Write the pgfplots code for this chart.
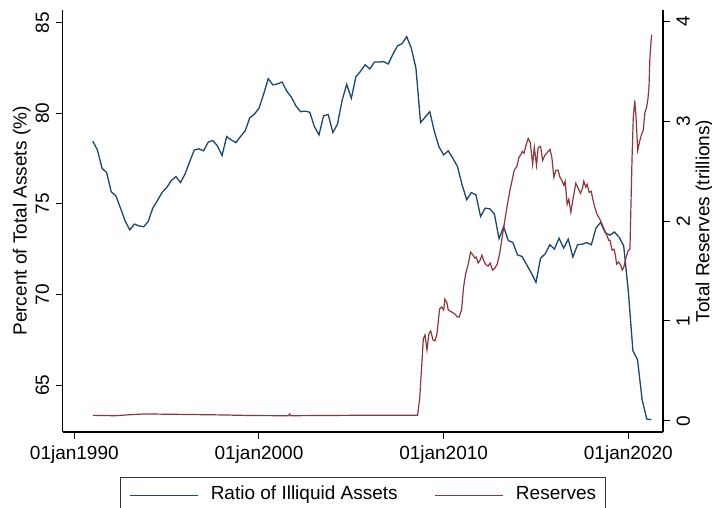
\documentclass[border=0pt]{standalone}
\usepackage{fontspec}
\setmainfont{Liberation Sans}
\usepackage{pgfplots}
\pgfplotsset{compat=1.18}
\definecolor{stnavy}{RGB}{26,71,111}
\definecolor{stmaroon}{RGB}{144,53,59}
\begin{document}
\fontsize{19}{22}\selectfont
\begin{tikzpicture}
\pgfplotsset{
  common/.style={
    width=600.3pt, height=422pt, scale only axis,
    xmin=1989.37, xmax=2021.88,
    xtick={1990,2000,2010,2020},
    xticklabels={01jan1990,01jan2000,01jan2010,01jan2020},
    tick align=outside, major tick length=7pt,
    every tick/.style={black, line width=1pt},
    axis line style={black, line width=1.1pt},
    /pgf/number format/assume math mode=true,
  }
}
\begin{axis}[common,
  axis x line*=bottom, axis y line*=left,
  ymin=62.42, ymax=85.70,
  ytick={65,70,75,80,85},
  yticklabel style={rotate=90, anchor=south},
  ylabel={Percent of Total Assets (\%)},
  ylabel style={at={(axis description cs:-0.0683,0.5)}, anchor=center},
]
\addplot[stnavy, line width=1.3pt] coordinates {
(1991.00,78.46) (1991.25,77.98) (1991.50,76.97) (1991.75,76.73)
(1992.00,75.67) (1992.25,75.45) (1992.50,74.77) (1992.75,74.07)
(1993.00,73.57) (1993.25,73.89) (1993.50,73.79) (1993.75,73.74)
(1994.00,74.03) (1994.25,74.77) (1994.50,75.19) (1994.75,75.63)
(1995.00,75.90) (1995.25,76.29) (1995.50,76.51) (1995.75,76.18)
(1996.00,76.66) (1996.25,77.34) (1996.50,77.98) (1996.75,78.04)
(1997.00,77.93) (1997.25,78.41) (1997.50,78.50) (1997.75,78.20)
(1998.00,77.67) (1998.25,78.72) (1998.50,78.53) (1998.75,78.38)
(1999.00,78.72) (1999.25,79.03) (1999.50,79.75) (1999.75,79.95)
(2000.00,80.28) (2000.25,81.05) (2000.50,81.91) (2000.75,81.57)
(2001.00,81.62) (2001.25,81.73) (2001.50,81.23) (2001.75,80.89)
(2002.00,80.41) (2002.25,80.09) (2002.50,80.12) (2002.75,80.06)
(2003.00,79.27) (2003.25,78.81) (2003.50,79.87) (2003.75,79.93)
(2004.00,78.94) (2004.25,79.40) (2004.50,80.70) (2004.75,81.60)
(2005.00,80.83) (2005.25,82.02) (2005.50,82.32) (2005.75,82.68)
(2006.00,82.45) (2006.25,82.83) (2006.50,82.83) (2006.75,82.85)
(2007.00,82.72) (2007.25,83.26) (2007.50,83.72) (2007.75,83.84)
(2008.00,84.23) (2008.25,83.59) (2008.50,82.49) (2008.75,79.49)
(2009.00,79.79) (2009.25,80.09) (2009.50,78.99) (2009.75,78.15)
(2010.00,77.71) (2010.25,77.93) (2010.50,77.52) (2010.75,77.06)
(2011.00,76.05) (2011.25,75.23) (2011.50,75.63) (2011.75,75.50)
(2012.00,74.31) (2012.25,74.77) (2012.50,74.73) (2012.75,74.44)
(2013.00,73.08) (2013.25,73.75) (2013.50,72.98) (2013.75,72.87)
(2014.00,72.19) (2014.25,72.10) (2014.50,71.64) (2014.75,71.19)
(2015.00,70.67) (2015.25,72.01) (2015.50,72.25) (2015.75,72.75)
(2016.00,72.51) (2016.25,73.11) (2016.50,72.56) (2016.75,73.06)
(2017.00,72.07) (2017.25,72.75) (2017.50,72.78) (2017.75,72.87)
(2018.00,72.75) (2018.25,73.67) (2018.50,73.98) (2018.75,73.42)
(2019.00,73.28) (2019.25,73.45) (2019.50,73.17) (2019.75,72.69)
(2020.00,70.20) (2020.25,66.90) (2020.50,66.41) (2020.75,64.20)
(2021.00,63.14) (2021.25,63.10)
};
\end{axis}
\begin{axis}[common,
  axis x line=none, axis y line*=right,
  ymin=-0.113, ymax=4.117,
  ytick={0,1,2,3,4},
  yticklabel style={rotate=90, anchor=north},
  ylabel={Total Reserves (trillions)},
  ylabel style={at={(axis description cs:1.0691,0.5)}, anchor=center},
  legend columns=2,
  legend cell align=left,
  legend style={at={(axis description cs:0.5,-0.1066)}, anchor=north,
    name=leg, draw=none, inner xsep=9pt, inner ysep=9pt,
    nodes={inner sep=0pt, text depth=0.25em},
    /tikz/every odd column/.style={column sep=12pt},
    /tikz/every even column/.style={column sep=37pt}},
]
\addlegendimage{legend image code/.code={\draw[color=stnavy, line width=1.3pt] (0pt,0pt) -- (68pt,0pt);}}
\addlegendentry{Ratio of Illiquid Assets}
\addlegendimage{legend image code/.code={\draw[color=stmaroon, line width=1.3pt] (0pt,0pt) -- (68pt,0pt);}}
\addlegendentry{Reserves}
\addplot[stmaroon, line width=1.2pt, forget plot] coordinates {
(1991.00,0.054) (1992.20,0.050) (1993.00,0.060) (1993.80,0.068)
(1996.00,0.063) (1998.00,0.058) (1999.60,0.052) (2001.60,0.050)
(2001.66,0.068) (2001.72,0.050) (2003.00,0.052) (2005.00,0.054)
(2007.00,0.054) (2008.59,0.054)
(2008.71,0.24) (2008.90,0.82) (2008.99,0.86) (2009.10,0.71)
(2009.20,0.87) (2009.30,0.90) (2009.42,0.81) (2009.53,0.80)
(2009.64,0.87) (2009.78,1.12) (2009.89,1.14) (2010.00,1.11)
(2010.07,1.22) (2010.18,1.18) (2010.25,1.11) (2010.43,1.09)
(2010.61,1.07) (2010.74,1.04) (2010.84,1.04) (2010.97,1.11)
(2011.08,1.34) (2011.19,1.47) (2011.33,1.57) (2011.46,1.69)
(2011.59,1.66) (2011.69,1.63) (2011.77,1.64) (2011.87,1.58)
(2011.98,1.61) (2012.07,1.66) (2012.20,1.59) (2012.31,1.56)
(2012.41,1.55) (2012.52,1.58) (2012.65,1.51) (2012.78,1.53)
(2012.90,1.57) (2013.03,1.67) (2013.23,1.91) (2013.41,2.12)
(2013.59,2.31) (2013.72,2.42) (2013.82,2.51) (2013.97,2.55)
(2014.08,2.64) (2014.19,2.67) (2014.26,2.70) (2014.35,2.68)
(2014.46,2.76) (2014.58,2.83) (2014.69,2.79) (2014.82,2.57)
(2014.91,2.74) (2015.03,2.56) (2015.12,2.74) (2015.25,2.75)
(2015.36,2.61) (2015.48,2.66) (2015.58,2.68) (2015.76,2.72)
(2015.86,2.64) (2015.97,2.44) (2016.08,2.51) (2016.20,2.51)
(2016.30,2.44) (2016.40,2.41) (2016.51,2.36) (2016.58,2.40)
(2016.69,2.17) (2016.78,2.22) (2016.89,2.09) (2017.02,2.24)
(2017.16,2.38) (2017.31,2.32) (2017.41,2.28) (2017.52,2.33)
(2017.59,2.40) (2017.70,2.34) (2017.77,2.37) (2017.88,2.29)
(2017.99,2.30) (2018.09,2.21) (2018.20,2.13) (2018.31,2.07)
(2018.46,2.02) (2018.60,1.96) (2018.79,1.88) (2018.94,1.81)
(2019.01,1.81) (2019.12,1.71) (2019.22,1.72) (2019.29,1.67)
(2019.37,1.57) (2019.48,1.59) (2019.59,1.56) (2019.67,1.51)
(2019.76,1.54) (2019.87,1.63) (2019.98,1.70) (2020.09,1.72)
(2020.20,2.61) (2020.27,3.04) (2020.35,3.21) (2020.42,3.04)
(2020.51,2.71) (2020.60,2.79) (2020.70,2.86) (2020.81,2.91)
(2020.90,3.09) (2020.99,3.14) (2021.06,3.22) (2021.12,3.34)
(2021.17,3.64) (2021.26,3.87)
};
\end{axis}
\draw[black!80, line width=0.8pt] (leg.south west) rectangle (leg.north east);
\pgfresetboundingbox
\useasboundingbox (-62.7pt,-76pt) rectangle (649.3pt,432pt);
\end{tikzpicture}
\end{document}
